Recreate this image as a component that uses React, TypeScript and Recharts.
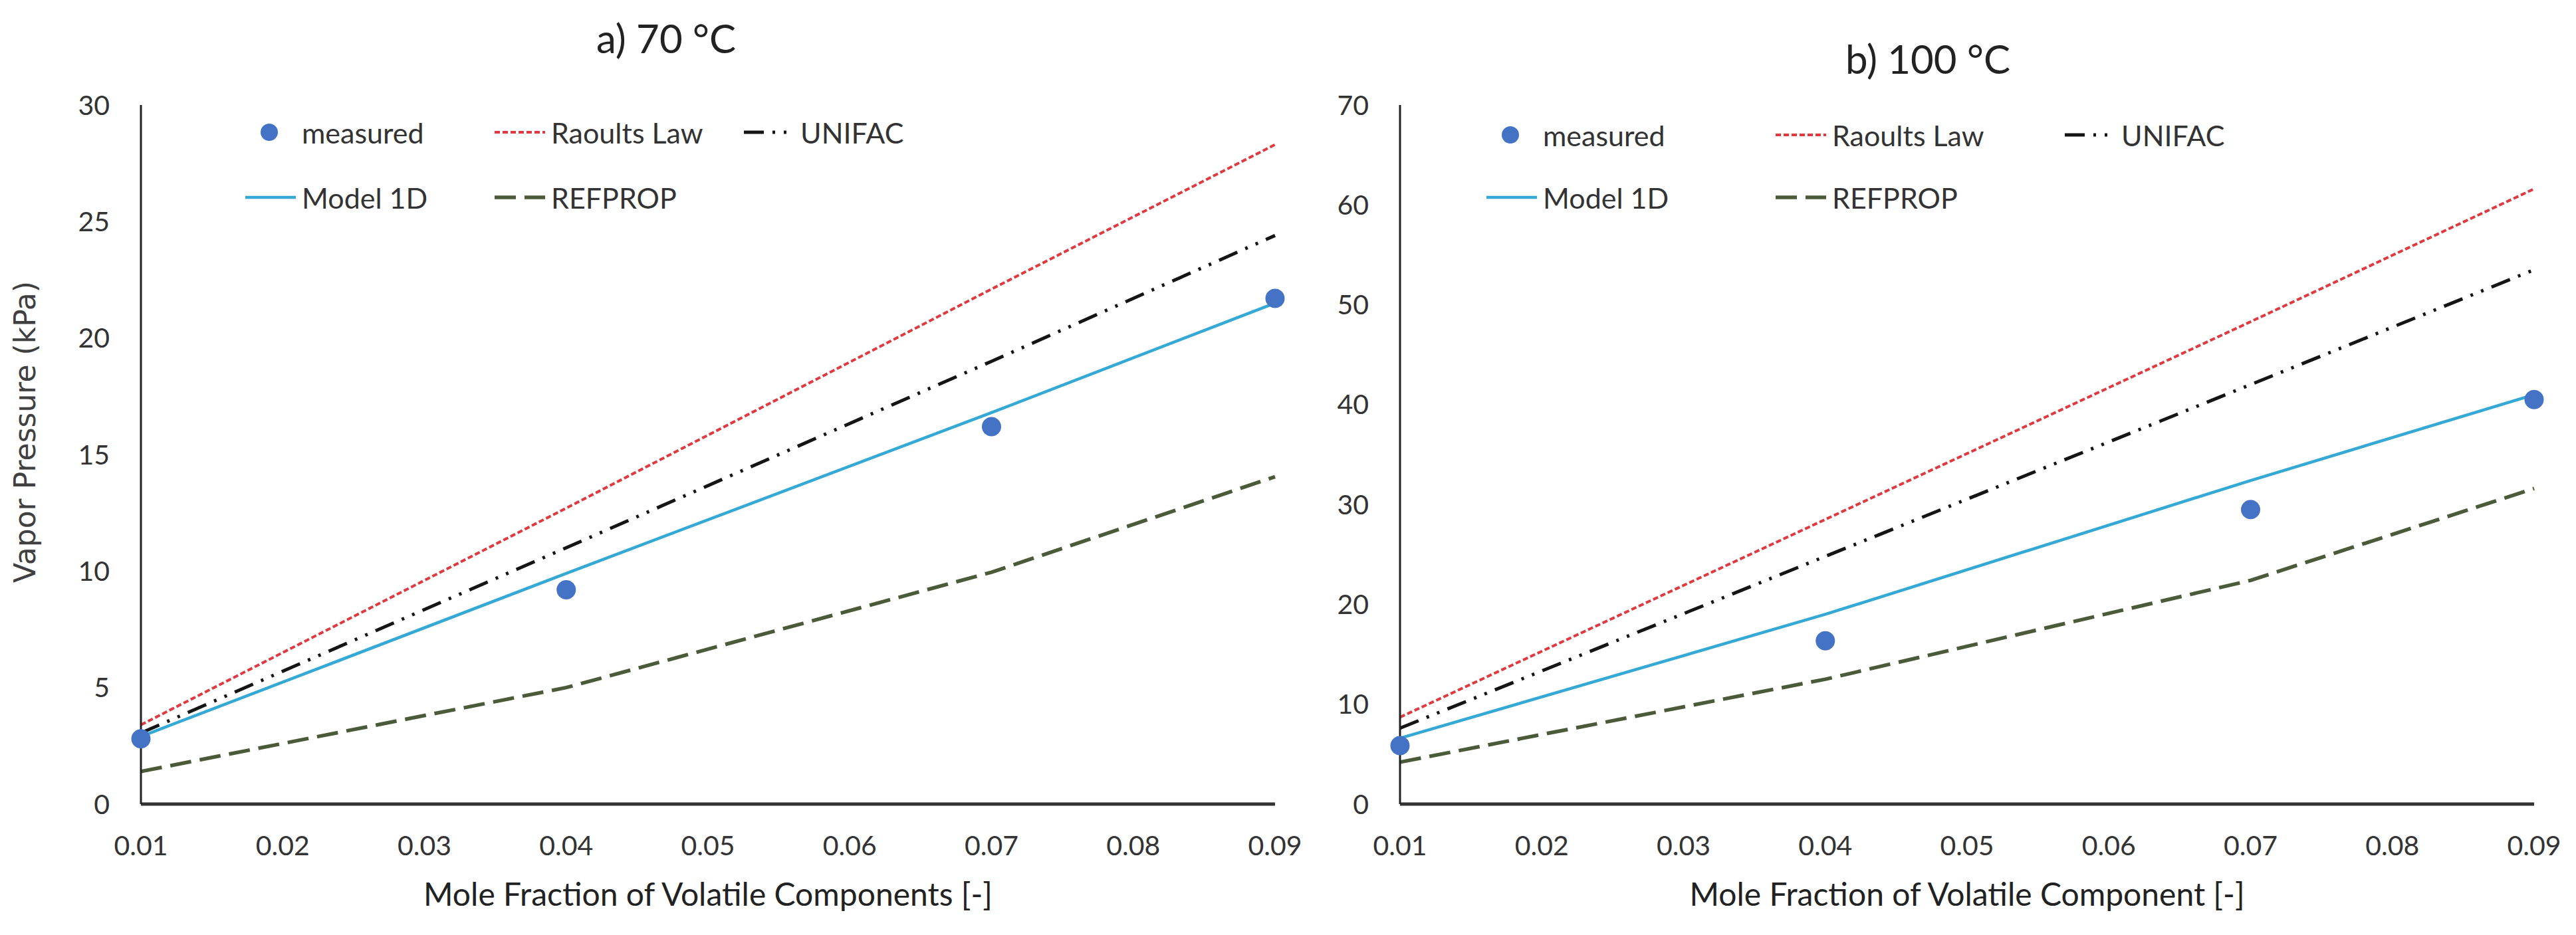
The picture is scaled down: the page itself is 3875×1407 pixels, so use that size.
import React from 'react';
import { ComposedChart, Line, XAxis, YAxis, Legend, Label } from 'recharts';

// mole fraction of the volatile component(s), shared by both panels
const moleFraction = [0.01, 0.04, 0.07, 0.09];
const xTicks = [0.01, 0.02, 0.03, 0.04, 0.05, 0.06, 0.07, 0.08, 0.09];

// a) 70 °C, vapor pressure in kPa
const measured70 = [2.8, 9.2, 16.2, 21.7];
const raoult70 = [3.4, 12.7, 22.1, 28.3];
const unifac70 = [3.05, 11.0, 19.0, 24.4];
const model70 = [2.9, 9.9, 16.8, 21.5];
const refprop70 = [1.4, 5.0, 9.95, 14.05];
const yTicks70 = [0, 5, 10, 15, 20, 25, 30];

// b) 100 °C, vapor pressure in kPa
const measured100 = [5.85, 16.35, 29.5, 40.5];
const raoult100 = [8.7, 28.5, 48.3, 61.6];
const unifac100 = [7.6, 24.8, 42.0, 53.5];
const model100 = [6.6, 19.0, 32.4, 41.0];
const refprop100 = [4.2, 12.5, 22.4, 31.6];
const yTicks100 = [0, 10, 20, 30, 40, 50, 60, 70];

const FONT = 'Lato, "Open Sans", sans-serif';
const TEXT = '#333';
const MEASURED_COLOR = '#4472C4';

const SERIES = [
  { key: 'refprop', name: 'REFPROP', color: '#4B5A38', width: 5.5, dash: '32 13' },
  { key: 'unifac', name: 'UNIFAC', color: '#151515', width: 5, dash: '30 13 4 13 4 13' },
  { key: 'raoult', name: 'Raoults Law', color: '#DE3A40', width: 4, dash: '8 4' },
  { key: 'model', name: 'Model 1D', color: '#35A9D6', width: 4.5, dash: undefined as string | undefined },
];
const LEGEND_ORDER = ['measured', 'raoult', 'unifac', 'model', 'refprop'];

const buildRows = (measured: number[], raoult: number[], unifac: number[], model: number[], refprop: number[]) =>
  moleFraction.map((x, i) => ({
    x,
    measured: measured[i],
    raoult: raoult[i],
    unifac: unifac[i],
    model: model[i],
    refprop: refprop[i],
  }));

const LegendIcon = ({ k }: { k: string }) => {
  if (k === 'measured') {
    return (
      <svg width={76} height={30}>
        <circle cx={36} cy={15} r={13} fill={MEASURED_COLOR} />
      </svg>
    );
  }
  const s = SERIES.find((d) => d.key === k)!;
  return (
    <svg width={76} height={30}>
      <line x1={0} x2={76} y1={15} y2={15} stroke={s.color} strokeWidth={s.width} strokeDasharray={s.dash} />
    </svg>
  );
};

const makeLegend = (colWidth: number, rowHeight: number) => (props: any) => {
  const byKey = new Map<string, any>((props.payload || []).map((p: any) => [String(p.dataKey), p]));
  return (
    <div
      style={{
        display: 'grid',
        gridTemplateColumns: `repeat(3, ${colWidth}px)`,
        gridAutoRows: `${rowHeight}px`,
        alignItems: 'center',
      }}
    >
      {LEGEND_ORDER.map((k) => {
        const p = byKey.get(k);
        if (!p) return null;
        return (
          <div key={k} style={{ display: 'flex', alignItems: 'center' }}>
            <LegendIcon k={k} />
            <span style={{ marginLeft: 9, fontFamily: FONT, fontSize: 43, color: TEXT, whiteSpace: 'nowrap' }}>
              {p.value}
            </span>
          </div>
        );
      })}
    </div>
  );
};

const YTitle = (props: any) => {
  const vb = props.viewBox || { x: 0, y: 158, width: 212, height: 1052 };
  const cx = vb.x + 37;
  const cy = vb.y + vb.height / 2 - 34;
  return (
    <text
      x={cx}
      y={cy}
      transform={`rotate(-90 ${cx} ${cy})`}
      textAnchor="middle"
      dominantBaseline="central"
      fontFamily='"DejaVu Sans", Verdana, sans-serif'
      fontSize={44}
      fill="#404040"
    >
      Vapor Pressure (kPa)
    </text>
  );
};

type PanelProps = {
  left: number;
  width: number;
  yAxisWidth: number;
  rightMargin: number;
  title: string;
  titleCenterX: number;
  titleCenterY: number;
  xTitle: string;
  yTicks: number[];
  rows: ReturnType<typeof buildRows>;
  showYTitle: boolean;
  legendLeft: number;
  legendTop: number;
  legendCol: number;
  legendRow: number;
};

const HEIGHT = 1407;

const Panel = (p: PanelProps) => (
  <div style={{ position: 'absolute', left: p.left, top: 0, width: p.width, height: HEIGHT }}>
    <div
      style={{
        position: 'absolute',
        left: p.titleCenterX - p.left - 300,
        top: p.titleCenterY - 31.5,
        width: 600,
        textAlign: 'center',
        fontFamily: FONT,
        fontSize: 60,
        lineHeight: 1,
        color: '#222',
        zIndex: 2,
      }}
    >
      {p.title}
    </div>
    <ComposedChart
      width={p.width}
      height={HEIGHT}
      data={p.rows}
      margin={{ top: 158, right: p.rightMargin, bottom: 35, left: 0 }}
    >
      <XAxis
        dataKey="x"
        type="number"
        domain={[0.01, 0.09]}
        ticks={xTicks}
        interval={0}
        tickFormatter={(v: number) => v.toFixed(2)}
        height={162}
        tickLine={false}
        tickSize={0}
        tickMargin={48}
        axisLine={{ stroke: '#333', strokeWidth: 5 }}
        tick={{ fontFamily: FONT, fontSize: 41, fill: TEXT }}
      >
        <Label
          value={p.xTitle}
          position="insideTop"
          offset={119}
          style={{ fontFamily: FONT, fontSize: 48, fill: '#222' }}
        />
      </XAxis>
      <YAxis
        type="number"
        domain={[p.yTicks[0], p.yTicks[p.yTicks.length - 1]]}
        ticks={p.yTicks}
        interval={0}
        width={p.yAxisWidth}
        tickLine={false}
        tickSize={0}
        tickMargin={47}
        axisLine={{ stroke: '#222', strokeWidth: 3 }}
        tick={{ fontFamily: FONT, fontSize: 41, fill: TEXT }}
      >
        {p.showYTitle ? <Label content={<YTitle />} /> : null}
      </YAxis>
      <Legend
        layout="horizontal"
        verticalAlign="middle"
        align="center"
        content={makeLegend(p.legendCol, p.legendRow)}
        wrapperStyle={{ left: p.legendLeft, top: p.legendTop, width: p.legendCol * 3, height: p.legendRow * 2 }}
      />
      {SERIES.map((s) => (
        <Line
          key={s.key}
          dataKey={s.key}
          name={s.name}
          stroke={s.color}
          strokeWidth={s.width}
          strokeDasharray={s.dash}
          dot={false}
          activeDot={false}
          isAnimationActive={false}
        />
      ))}
      <Line
        dataKey="measured"
        name="measured"
        stroke="none"
        legendType="circle"
        dot={{ r: 14.5, fill: MEASURED_COLOR, stroke: 'none' }}
        activeDot={false}
        isAnimationActive={false}
      />
    </ComposedChart>
  </div>
);

export default function App() {
  return (
    <div style={{ position: 'absolute', left: 0, top: 0, width: 3875, height: HEIGHT, background: '#fff', overflow: 'hidden' }}>
      <Panel
        left={0}
        width={1960}
        yAxisWidth={212}
        rightMargin={42}
        title="a) 70 °C"
        titleCenterX={1002}
        titleCenterY={58}
        xTitle="Mole Fraction of Volatile Components [-]"
        yTicks={yTicks70}
        rows={buildRows(measured70, raoult70, unifac70, model70, refprop70)}
        showYTitle
        legendLeft={369}
        legendTop={150}
        legendCol={375}
        legendRow={98}
      />
      <Panel
        left={1960}
        width={1915}
        yAxisWidth={146}
        rightMargin={63}
        title="b) 100 °C"
        titleCenterX={2900}
        titleCenterY={89}
        xTitle="Mole Fraction of Volatile Component [-]"
        yTicks={yTicks100}
        rows={buildRows(measured100, raoult100, unifac100, model100, refprop100)}
        showYTitle={false}
        legendLeft={276}
        legendTop={156}
        legendCol={435}
        legendRow={94}
      />
    </div>
  );
}
